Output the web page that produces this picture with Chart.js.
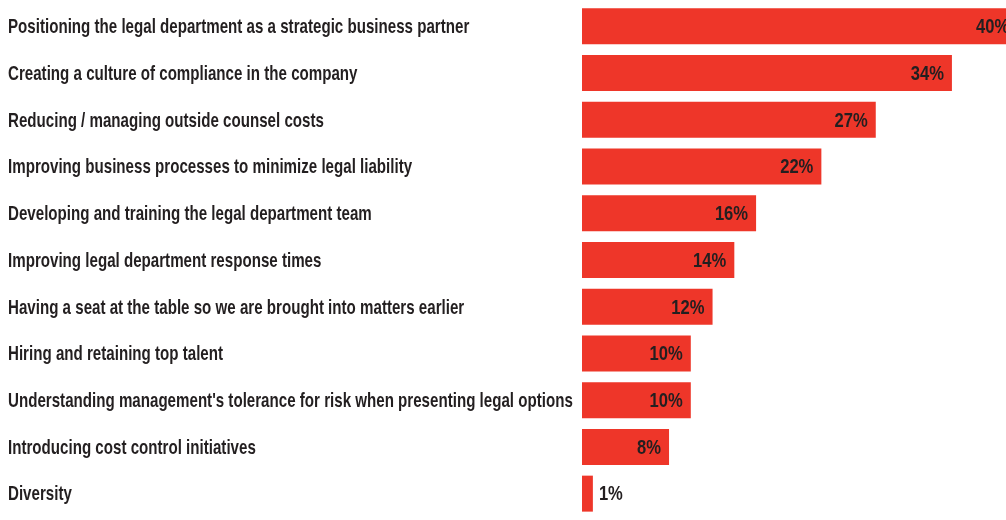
<!DOCTYPE html>
<html>
<head>
<meta charset="utf-8">
<script src="https://cdn.jsdelivr.net/npm/chart.js@4"></script>
<style>
  html, body { margin: 0; padding: 0; background: #fff; }
  #wrap { width: 1006px; height: 520px; }
</style>
</head>
<body>
<div id="wrap"><canvas id="prioritiesChart"></canvas></div>
<script>
var categories = [
    'Positioning the legal department as a strategic business partner',
    'Creating a culture of compliance in the company',
    'Reducing / managing outside counsel costs',
    'Improving business processes to minimize legal liability',
    'Developing and training the legal department team',
    'Improving legal department response times',
    'Having a seat at the table so we are brought into matters earlier',
    'Hiring and retaining top talent',
    "Understanding management's tolerance for risk when presenting legal options",
    'Introducing cost control initiatives',
    'Diversity'
];
var values = [40, 34, 27, 22, 16, 14, 12, 10, 10, 8, 1];

var FONT = "'Liberation Sans', Arial, sans-serif";
var FONT_SIZE = 21;
var NAME_SQUEEZE = 0.72;   // horizontal scale for category names
var VALUE_SQUEEZE = 0.79;  // horizontal scale for percent labels
var RED = '#ee3629';
var INK = '#231f20';

// draw text squeezed horizontally to get a condensed look
function narrowText(ctx, text, x, y, sx, align) {
    var w = ctx.measureText(text).width * sx;
    var left = align === 'right' ? x - w : x;
    ctx.save();
    ctx.translate(left, y);
    ctx.scale(sx, 1);
    ctx.textAlign = 'left';
    ctx.fillText(text, 0, 0);
    ctx.restore();
}

// Category names on the left and percent labels at the bar ends
var barText = {
    id: 'barText',
    afterDatasetsDraw: function(chart) {
        var ctx = chart.ctx;
        var yScale = chart.scales.y;
        var meta = chart.getDatasetMeta(0);
        ctx.save();
        ctx.font = 'bold ' + FONT_SIZE + 'px ' + FONT;
        ctx.fillStyle = INK;
        ctx.textBaseline = 'middle';

        categories.forEach(function(name, i) {
            narrowText(ctx, name, 8, yScale.getPixelForTick(i) + 1, NAME_SQUEEZE, 'left');
        });

        meta.data.forEach(function(bar, i) {
            var text = values[i] + '%';
            var w = ctx.measureText(text).width * VALUE_SQUEEZE;
            if (bar.x - bar.base > w + 14) {
                narrowText(ctx, text, bar.x - 8, bar.y + 1, VALUE_SQUEEZE, 'right');
            } else {
                narrowText(ctx, text, bar.x + 6, bar.y + 1, VALUE_SQUEEZE, 'left');
            }
        });
        ctx.restore();
    }
};

var ctx = document.getElementById('prioritiesChart').getContext('2d');
new Chart(ctx, {
    type: 'bar',
    data: {
        labels: categories,
        datasets: [{
            data: values,
            backgroundColor: RED,
            borderWidth: 0,
            barPercentage: 0.77,
            categoryPercentage: 1
        }]
    },
    options: {
        indexAxis: 'y',
        responsive: true,
        maintainAspectRatio: false,
        animation: false,
        layout: {
            padding: { left: 8, right: 0, top: 3, bottom: 3 }
        },
        scales: {
            x: {
                display: false,
                min: 0,
                max: 38.97
            },
            y: {
                grid: { display: false, drawTicks: false },
                border: { display: false },
                ticks: { display: false },
                afterFit: function(scale) {
                    scale.width = 574;
                    scale.paddingTop = 0;
                    scale.paddingBottom = 0;
                }
            }
        },
        plugins: {
            legend: { display: false },
            tooltip: { enabled: false }
        }
    },
    plugins: [barText]
});
</script>
</body>
</html>
